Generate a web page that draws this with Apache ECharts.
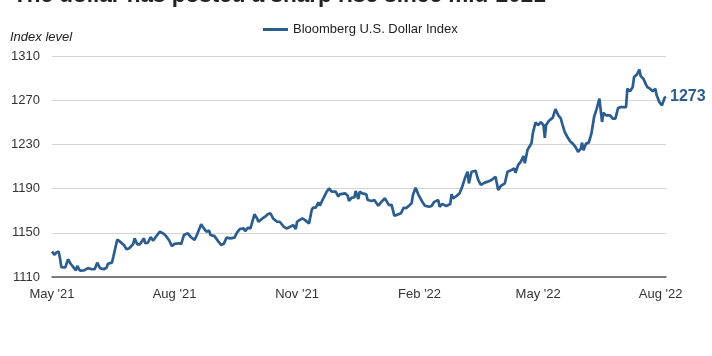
<!DOCTYPE html>
<html>
<head>
<meta charset="utf-8">
<script src="https://cdn.jsdelivr.net/npm/echarts@6/dist/echarts.min.js"></script>
<style>
html,body{margin:0;padding:0;background:#fff;}
#chart{width:712px;height:356px;}
</style>
</head>
<body>
<div id="chart"></div>
<script>
var titleText = "The dollar has posted a sharp rise since mid-2021";
var yAxisName = "Index level";
var seriesName = "Bloomberg U.S. Dollar Index";

var dates = [
"2021-05-01","2021-05-03","2021-05-04","2021-05-06","2021-05-07","2021-05-08","2021-05-11","2021-05-13","2021-05-15","2021-05-17",
"2021-05-19","2021-05-20","2021-05-22","2021-05-25","2021-05-28","2021-05-31","2021-06-02","2021-06-04","2021-06-06","2021-06-09",
"2021-06-11","2021-06-12","2021-06-15","2021-06-16","2021-06-19","2021-06-21","2021-06-24","2021-06-26","2021-06-28","2021-07-01",
"2021-07-02","2021-07-04","2021-07-06","2021-07-09","2021-07-10","2021-07-12","2021-07-14","2021-07-16","2021-07-19","2021-07-21",
"2021-07-24","2021-07-26","2021-07-28","2021-07-30","2021-08-01","2021-08-04","2021-08-06","2021-08-08","2021-08-11","2021-08-13",
"2021-08-14","2021-08-16","2021-08-18","2021-08-21","2021-08-23","2021-08-25","2021-08-27","2021-08-28","2021-08-31","2021-09-03",
"2021-09-05","2021-09-07","2021-09-09","2021-09-12","2021-09-15","2021-09-17","2021-09-19","2021-09-22","2021-09-23","2021-09-25",
"2021-09-27","2021-09-30","2021-10-02","2021-10-03","2021-10-06","2021-10-08","2021-10-10","2021-10-12","2021-10-14","2021-10-17",
"2021-10-19","2021-10-22","2021-10-24","2021-10-27","2021-10-29","2021-10-31","2021-11-01","2021-11-03","2021-11-05","2021-11-07",
"2021-11-08","2021-11-10","2021-11-12","2021-11-13","2021-11-15","2021-11-17","2021-11-18","2021-11-21","2021-11-23","2021-11-25",
"2021-11-27","2021-11-30","2021-12-02","2021-12-03","2021-12-07","2021-12-09","2021-12-10","2021-12-12","2021-12-14","2021-12-15",
"2021-12-17","2021-12-18","2021-12-20","2021-12-23","2021-12-24","2021-12-27","2021-12-29","2022-01-01","2022-01-03","2022-01-06",
"2022-01-07","2022-01-09","2022-01-11","2022-01-13","2022-01-16","2022-01-18","2022-01-20","2022-01-22","2022-01-24","2022-01-26",
"2022-01-27","2022-01-29","2022-01-31","2022-02-03","2022-02-05","2022-02-08","2022-02-10","2022-02-12","2022-02-15","2022-02-16",
"2022-02-18","2022-02-21","2022-02-24","2022-02-25","2022-02-26","2022-02-28","2022-03-03","2022-03-05","2022-03-07","2022-03-09",
"2022-03-10","2022-03-12","2022-03-15","2022-03-17","2022-03-19","2022-03-22","2022-03-24","2022-03-27","2022-03-28","2022-03-30",
"2022-04-01","2022-04-03","2022-04-06","2022-04-08","2022-04-11","2022-04-13","2022-04-14","2022-04-16","2022-04-18","2022-04-20",
"2022-04-21","2022-04-23","2022-04-26","2022-04-27","2022-04-29","2022-05-01","2022-05-03","2022-05-05","2022-05-06","2022-05-07",
"2022-05-09","2022-05-12","2022-05-14","2022-05-16","2022-05-18","2022-05-19","2022-05-20","2022-05-21","2022-05-23","2022-05-25",
"2022-05-27","2022-05-29","2022-05-31","2022-06-01","2022-06-02","2022-06-03","2022-06-04","2022-06-06","2022-06-08","2022-06-10",
"2022-06-12","2022-06-14","2022-06-16","2022-06-17","2022-06-18","2022-06-19","2022-06-21","2022-06-24","2022-06-26","2022-06-28",
"2022-06-30","2022-07-02","2022-07-06","2022-07-07","2022-07-09","2022-07-11","2022-07-12","2022-07-14","2022-07-16","2022-07-17",
"2022-07-19","2022-07-21","2022-07-22","2022-07-24","2022-07-26","2022-07-28","2022-07-29","2022-07-31","2022-08-02","2022-08-03",
"2022-08-04","2022-08-05"
];

var values = [
1133,1130,1132,1133,1127,1119,1118.7,1126,1122,1119,
1116,1120,1115.7,1116,1118,1117,1117,1123,1118,1117,
1118.5,1122,1123,1128,1144,1142,1139,1135,1136,1140,
1145,1139.6,1139.6,1145,1140.5,1141,1146,1143,1148,1151,
1149,1146.5,1143,1138,1140,1140.5,1139.8,1148,1149.5,1146.5,
1145,1143.5,1148.6,1157.7,1154,1151,1152,1148,1147,1142,
1139,1140,1145.6,1145,1145.6,1150.4,1153.4,1154,1151.6,1154.5,
1154,1166.7,1163,1160,1163,1164.6,1166.7,1167.6,1163,1160,
1160,1155.5,1154,1155.5,1157,1153.4,1160,1161.6,1163,1161.5,
1160,1158.5,1170.6,1172.7,1172.7,1177.6,1174.5,1181.8,1186.6,1190.2,
1187.2,1187.2,1182.7,1184.8,1185.7,1183.6,1178.8,1181.8,1182,1187.8,
1180.6,1187.2,1185.7,1184.8,1179.7,1178.8,1179.7,1174.5,1177.6,1181.2,
1179.7,1175,1175.3,1165.5,1166.7,1167.6,1172.7,1172.4,1174.5,1176.7,
1184.2,1190.8,1184.8,1178.1,1174.5,1173.6,1174.3,1178,1179.7,1173.6,
1176,1174.3,1176,1185,1181.2,1182.7,1185.7,1191.7,1199.3,1205.3,
1194.7,1205.3,1206.2,1197.8,1193.3,1195.4,1196.3,1197.8,1196.3,1200.8,
1188.8,1192.4,1194.8,1205.3,1206.8,1208.4,1204.4,1211.4,1214.4,1219.5,
1212.9,1225,1231,1240,1249.7,1247.6,1250,1247.6,1236,1247.6,
1251.2,1254.2,1262,1256.6,1253.6,1249,1250,1241.2,1236.7,1232.8,
1230.7,1227.7,1223.2,1221.7,1226.2,1231.6,1224.7,1230.7,1231.6,1239.7,
1254.8,1262.3,1271.4,1260.8,1250.3,1258.7,1256.3,1256.3,1253.3,1253.3,
1262.9,1263.8,1263.8,1280.4,1278,1281.9,1290.9,1293,1297.8,1291.8,
1289.5,1284.1,1281.9,1280.4,1278,1280.4,1274.4,1268.3,1265.3,1266,
1272.3,1273
];

var xTickDates = ["2021-05-01","2021-08-01","2021-11-01","2022-02-01","2022-05-01","2022-08-01"];
var xTickLabels = ["May '21","Aug '21","Nov '21","Feb '22","May '22","Aug '22"];
var yTicks = [1110,1150,1190,1230,1270,1310];

function toTs(s){ var p = s.split('-'); return Date.UTC(+p[0], +p[1]-1, +p[2]); }

var seriesData = dates.map(function(d,i){ return [toTs(d), values[i]]; });
var tickTs = xTickDates.map(toTs);
var labelMap = {};
tickTs.forEach(function(t,i){ labelMap[t] = xTickLabels[i]; });

var FONT = "'Liberation Sans', Arial, sans-serif";
var lineColor = '#2c5d8f';

var chart = echarts.init(document.getElementById('chart'));
chart.setOption({
  animation: false,
  backgroundColor: '#ffffff',
  textStyle: { fontFamily: FONT },
  title: {
    text: titleText,
    left: 8,
    top: -21,
    textStyle: { fontSize: 22.5, fontWeight: 'bold', color: '#222', fontFamily: FONT }
  },
  legend: {
    left: 258,
    top: 18,
    itemWidth: 25,
    itemHeight: 3,
    itemGap: 4,
    icon: 'rect',
    textStyle: { fontSize: 13, color: '#222', fontFamily: FONT },
    data: [seriesName]
  },
  graphic: [{
    type: 'text',
    left: 10,
    top: 31,
    style: { text: yAxisName, font: 'italic 13px ' + FONT, fill: '#222' }
  }],
  grid: { left: 52, right: 46, top: 56, bottom: 79, containLabel: false },
  xAxis: {
    type: 'value',
    min: toTs(dates[0]),
    max: toTs(dates[dates.length-1]),
    axisLine: { show: true, lineStyle: { color: '#555', width: 1.5 } },
    axisTick: { show: false },
    splitLine: { show: false },
    axisLabel: {
      customValues: tickTs,
      showMinLabel: true,
      showMaxLabel: true,
      margin: 11,
      fontSize: 13,
      color: '#333',
      fontFamily: FONT,
      formatter: function(v){ return labelMap[v] !== undefined ? labelMap[v] : ''; }
    }
  },
  yAxis: {
    type: 'value',
    min: yTicks[0],
    max: yTicks[yTicks.length-1],
    interval: 40,
    axisLine: { show: false },
    axisTick: { show: false },
    splitLine: { show: true, lineStyle: { color: '#d4d4d4', width: 1 } },
    axisLabel: { fontSize: 13, color: '#333', margin: 12, fontFamily: FONT,
      formatter: function(v){ return String(v); } }
  },
  series: [{
    name: seriesName,
    type: 'line',
    data: seriesData,
    showSymbol: false,
    symbol: 'none',
    lineStyle: { color: lineColor, width: 2.7 },
    itemStyle: { color: lineColor },
    endLabel: {
      show: true,
      distance: 4,
      formatter: function(p){ return String(Math.round(p.value[1])); },
      fontSize: 16,
      fontWeight: 'bold',
      color: lineColor,
      fontFamily: FONT
    }
  }]
});
</script>
</body>
</html>
